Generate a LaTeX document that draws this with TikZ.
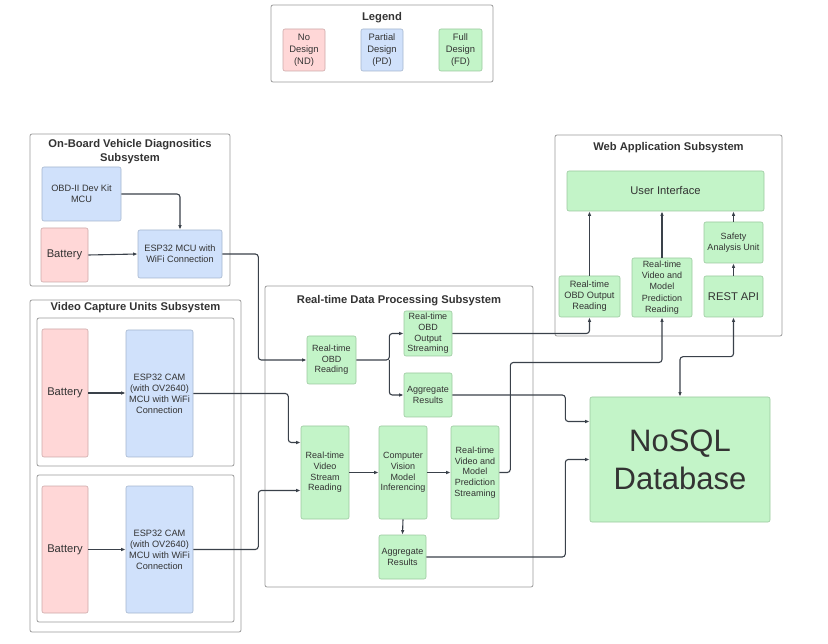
\documentclass[tikz,border=0pt]{standalone}
\usepackage{fontspec}
\setmainfont{Liberation Sans}
\usetikzlibrary{arrows.meta, positioning}
\definecolor{nofill}{HTML}{FFD7D7}
\definecolor{noline}{HTML}{CDA9A9}
\definecolor{partfill}{HTML}{D0E1FB}
\definecolor{partline}{HTML}{A5B6CE}
\definecolor{fullfill}{HTML}{C3F4C8}
\definecolor{fullline}{HTML}{9BC99F}
\definecolor{frameline}{HTML}{9A9A9A}
\definecolor{textgray}{HTML}{333333}
\definecolor{wiregray}{HTML}{3A414A}

\begin{document}
\begin{tikzpicture}[x=1pt, y=-1pt,
    font=\fontsize{9.2}{11}\selectfont, text=textgray,
    sz/.style 2 args={minimum width=#1, minimum height=#2},
    blk/.style={draw, rounded corners=2pt, align=center, inner sep=1pt, line width=0.6pt},
    nd/.style={blk, draw=noline, fill=nofill},
    pd/.style={blk, draw=partline, fill=partfill},
    fd/.style={blk, draw=fullline, fill=fullfill},
    proc/.style={fd, font=\fontsize{9}{10.6}\selectfont},
    key/.style={font=\fontsize{9.4}{12}\selectfont},
    frame/.style={draw=frameline, rounded corners=2pt, line width=0.8pt, inner sep=0pt},
    title/.style={font=\bfseries\fontsize{11.2}{13.5}\selectfont, align=center},
    big/.style={font=\fontsize{11.2}{13}\selectfont},
    wire/.style={draw=wiregray, line width=1.1pt, rounded corners=3pt, -{Latex[length=4.5pt,width=3.5pt]}}]
    \useasboundingbox (0,0) rectangle (828,644);

    % Legend
    \node[frame, sz={222}{77}] (legend) at (382,43.5) {};
    \node[title] (legendtitle) at (382,18) {Legend};
    \node[nd, key, sz={42}{42}] (keynd) at (304,50) {No\\Design\\(ND)};
    \node[pd, key, sz={42}{42}] (keypd) at (382,50) {Partial\\Design\\(PD)};
    \node[fd, key, sz={43}{42}] (keyfd) at (460.5,50) {Full\\Design\\(FD)};

    % On-board vehicle diagnostics
    \node[frame, sz={200}{152}] (obdsub) at (130,210) {};
    \node[title] (obdtitle) at (130,151.5) {On-Board Vehicle Diagnositics\\Subsystem};
    \node[pd, sz={79}{54}] (obdkit) at (81.5,194) {OBD-II Dev Kit\\MCU};
    \node[nd, sz={47}{54}, big] (bat0) at (64.5,255) {Battery};
    \node[pd, sz={84}{48}] (esp) at (180,254) {ESP32 MCU with\\WiFi Connection};

    % Video capture units
    \node[frame, sz={211}{332}] (vidsub) at (135.5,466) {};
    \node[title] (vidtitle) at (135.5,308) {Video Capture Units Subsystem};
    \node[frame, sz={197}{148}] (unit1) at (135.5,392) {};
    \node[frame, sz={197}{147}] (unit2) at (135.5,548.5) {};
    \node[nd, sz={46}{128}, big] (bat1) at (65,393) {Battery};
    \node[pd, sz={67}{127}] (cam1) at (159.5,393.5) {ESP32 CAM\\(with OV2640)\\MCU with WiFi\\Connection};
    \node[nd, sz={46}{127}, big] (bat2) at (65,549.5) {Battery};
    \node[pd, sz={67}{127}] (cam2) at (159.5,549.5) {ESP32 CAM\\(with OV2640)\\MCU with WiFi\\Connection};

    % Real-time data processing
    \node[frame, sz={268}{301}] (procsub) at (399,436.5) {};
    \node[title] (proctitle) at (399,301) {Real-time Data Processing Subsystem};
    \node[proc, sz={49}{48}] (obdread) at (331.5,360) {Real-time\\OBD\\Reading};
    \node[proc, sz={48}{45}] (obdout) at (428,333.5) {Real-time\\OBD\\Output\\Streaming};
    \node[proc, sz={48}{44}] (aggobd) at (428,395) {Aggregate\\Results};
    \node[proc, sz={48}{93}] (vidread) at (325,472.5) {Real-time\\Video\\Stream\\Reading};
    \node[proc, sz={48}{93}] (cvinf) at (403,472.5) {Computer\\Vision\\Model\\Inferencing};
    \node[proc, sz={48}{93}] (predout) at (475,472.5) {Real-time\\Video and\\Model\\Prediction\\Streaming};
    \node[proc, sz={47}{44}] (aggvid) at (402.5,557) {Aggregate\\Results};

    % Web application
    \node[frame, sz={227}{201}] (websub) at (668.5,235.5) {};
    \node[title] (webtitle) at (668.5,148) {Web Application Subsystem};
    \node[fd, sz={197}{40}, big] (ui) at (665.5,191) {User Interface};
    \node[fd, sz={59}{41}, font=\fontsize{9}{11}\selectfont] (safety) at (733.5,242.5) {Safety\\Analysis Unit};
    \node[fd, sz={59}{41}, big] (rest) at (733.5,296.5) {REST API};
    \node[fd, sz={60}{59}, font=\fontsize{9}{11.4}\selectfont] (predin) at (662,287.5) {Real-time\\Video and\\Model\\Prediction\\Reading};
    \node[fd, sz={61}{41}] (obdin) at (589.5,296.5) {Real-time\\OBD Output\\Reading};

    % Database
    \node[fd, sz={180}{125}, font=\fontsize{31}{38}\selectfont] (db) at (680,459.5) {NoSQL\\Database};

    % Connections
    \draw[wire] (obdkit.east) -| (esp.north);
    \draw[wire] (bat0.east) -- (esp.west);
    \draw[wire] (esp.east) -- ++(36,0) |- (obdread.west);
    \draw[wire] (bat1.east) -- (bat1.east -| cam1.west);
    \draw[wire] (bat2.east) -- (bat2.east -| cam2.west);
    \draw[wire] (cam1.east) -- ++(95,0) |- ([yshift=30pt]vidread.west);
    \draw[wire] (cam2.east) -- ++(65,0) |- ([yshift=-18pt]vidread.west);
    \draw[wire] (obdread.east) -- ++(33,0) coordinate (split) |- (obdout.west);
    \draw[wire] (split) |- (aggobd.west);
    \draw[wire] (vidread.east) -- (cvinf.west);
    \draw[wire] (cvinf.east) -- (predout.west);
    \draw[wire] (cvinf.south) -- (aggvid.north);
    \draw[wire] (obdout.east) -| (obdin.south);
    \draw[wire] (predout.east) -- ++(11,0) -- ++(0,-110) -| (predin.south);
    \draw[wire] (aggobd.east) -- ++(113,0) |- ([yshift=38pt]db.west);
    \draw[wire] (aggvid.east) -- ++(139,0) |- (db.west);
    \draw[wire, {Latex[length=4.5pt,width=3.5pt]}-{Latex[length=4.5pt,width=3.5pt]}] (db.north) -- ++(0,-40) -| (rest.south);
    \draw[wire] (obdin.north) -- (obdin.north |- ui.south);
    \draw[wire] (predin.north) -- (predin.north |- ui.south);
    \draw[wire] (rest.north) -- (safety.south);
    \draw[wire] (safety.north) -- (safety.north |- ui.south);
\end{tikzpicture}
\end{document}
